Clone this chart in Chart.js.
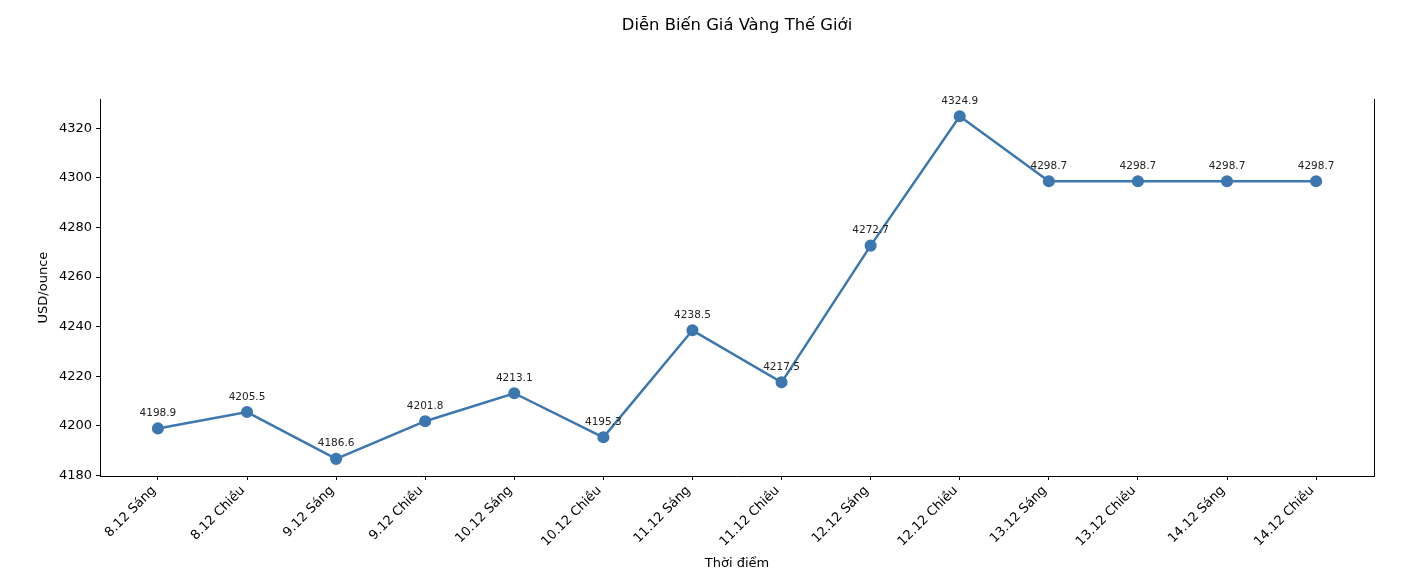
<!DOCTYPE html>
<html>

<head>
    <title>Diễn Biến Giá Vàng Thế Giới</title>
    <script src="https://cdn.jsdelivr.net/npm/chart.js"></script>
    <style>
        html, body { margin: 0; padding: 0; background: #fff; }
        #wrap { width: 1414px; height: 578px; }
    </style>
</head>

<body>
    <div id="wrap"><canvas id="myChart"></canvas></div>

    <script>
        // data
        const timeLabels = ['8.12 Sáng', '8.12 Chiều', '9.12 Sáng', '9.12 Chiều', '10.12 Sáng', '10.12 Chiều',
            '11.12 Sáng', '11.12 Chiều', '12.12 Sáng', '12.12 Chiều', '13.12 Sáng', '13.12 Chiều',
            '14.12 Sáng', '14.12 Chiều'];
        const goldPrice = [4198.9, 4205.5, 4186.6, 4201.8, 4213.1, 4195.3, 4238.5, 4217.5, 4272.7, 4324.9,
            4298.7, 4298.7, 4298.7, 4298.7];
        const yTicks = [4180, 4200, 4220, 4240, 4260, 4280, 4300, 4320];

        const FONT = 'DejaVu Sans';
        const lineColor = '#3d77b0';

        // matplotlib-like 5% margins
        const yMin = Math.min(...goldPrice), yMax = Math.max(...goldPrice);
        const yPad = (yMax - yMin) * 0.05;
        const xPad = (timeLabels.length - 1) * 0.05;

        // value labels above points
        const valueLabels = {
            id: 'valueLabels',
            afterDatasetsDraw(chart) {
                const c = chart.ctx;
                const meta = chart.getDatasetMeta(0);
                c.save();
                c.font = '10.5px "' + FONT + '"';
                c.fillStyle = '#222';
                c.textAlign = 'center';
                c.textBaseline = 'bottom';
                meta.data.forEach((pt, i) => {
                    c.fillText(goldPrice[i].toFixed(1), pt.x, pt.y - 10);
                });
                c.restore();
            }
        };

        const ctx = document.getElementById('myChart').getContext('2d');
        const myChart = new Chart(ctx, {
            type: 'line',
            data: {
                datasets: [{
                    data: goldPrice.map((v, i) => ({ x: i, y: v })),
                    borderColor: lineColor,
                    backgroundColor: lineColor,
                    borderWidth: 2.5,
                    pointRadius: 4.8,
                    pointHoverRadius: 4.8,
                    tension: 0,
                    fill: false
                }]
            },
            options: {
                responsive: true,
                maintainAspectRatio: false,
                animation: false,
                layout: { padding: { left: 32, right: 40, top: 0, bottom: 3 } },
                plugins: {
                    legend: { display: false },
                    tooltip: { enabled: false },
                    title: {
                        display: true,
                        fullSize: false,
                        text: 'Diễn Biến Giá Vàng Thế Giới',
                        color: '#000',
                        font: { family: FONT, size: 16.4, weight: 'normal' },
                        padding: { top: 16, bottom: 63.5 }
                    }
                },
                scales: {
                    x: {
                        type: 'linear',
                        min: -xPad,
                        max: timeLabels.length - 1 + xPad,
                        afterFit(s) { s.height = 99; },
                        grid: { display: true, drawOnChartArea: false, drawTicks: true, tickLength: 4, color: '#000' },
                        border: { display: true, color: '#000', width: 1 },
                        ticks: {
                            stepSize: 1,
                            includeBounds: false,
                            autoSkip: false,
                            maxRotation: 45,
                            minRotation: 45,
                            padding: 3,
                            labelOffset: -4,
                            color: '#000',
                            font: { family: FONT, size: 13 },
                            callback: (v) => timeLabels[v]
                        },
                        title: {
                            display: true,
                            text: 'Thời điểm',
                            color: '#000',
                            font: { family: FONT, size: 13 }
                        }
                    },
                    y: {
                        min: yMin - yPad,
                        max: yMax + yPad,
                        afterFit(s) { s.width = 68; },
                        afterBuildTicks(s) { s.ticks = yTicks.map(v => ({ value: v })); },
                        grid: { display: true, drawOnChartArea: false, drawTicks: true, tickLength: 4, color: '#000' },
                        border: { display: true, color: '#000', width: 1 },
                        ticks: {
                            padding: 4,
                            color: '#000',
                            font: { family: FONT, size: 13 },
                            callback: (v) => String(v)
                        },
                        title: {
                            display: true,
                            text: 'USD/ounce',
                            color: '#000',
                            font: { family: FONT, size: 13 }
                        }
                    },
                    yRight: {
                        position: 'right',
                        min: yMin - yPad,
                        max: yMax + yPad,
                        afterFit(s) { s.width = 0; },
                        grid: { display: false, drawOnChartArea: false, drawTicks: false },
                        border: { display: true, color: '#000', width: 1 },
                        ticks: { display: false }
                    }
                }
            },
            plugins: [valueLabels]
        });
    </script>
</body>

</html>
